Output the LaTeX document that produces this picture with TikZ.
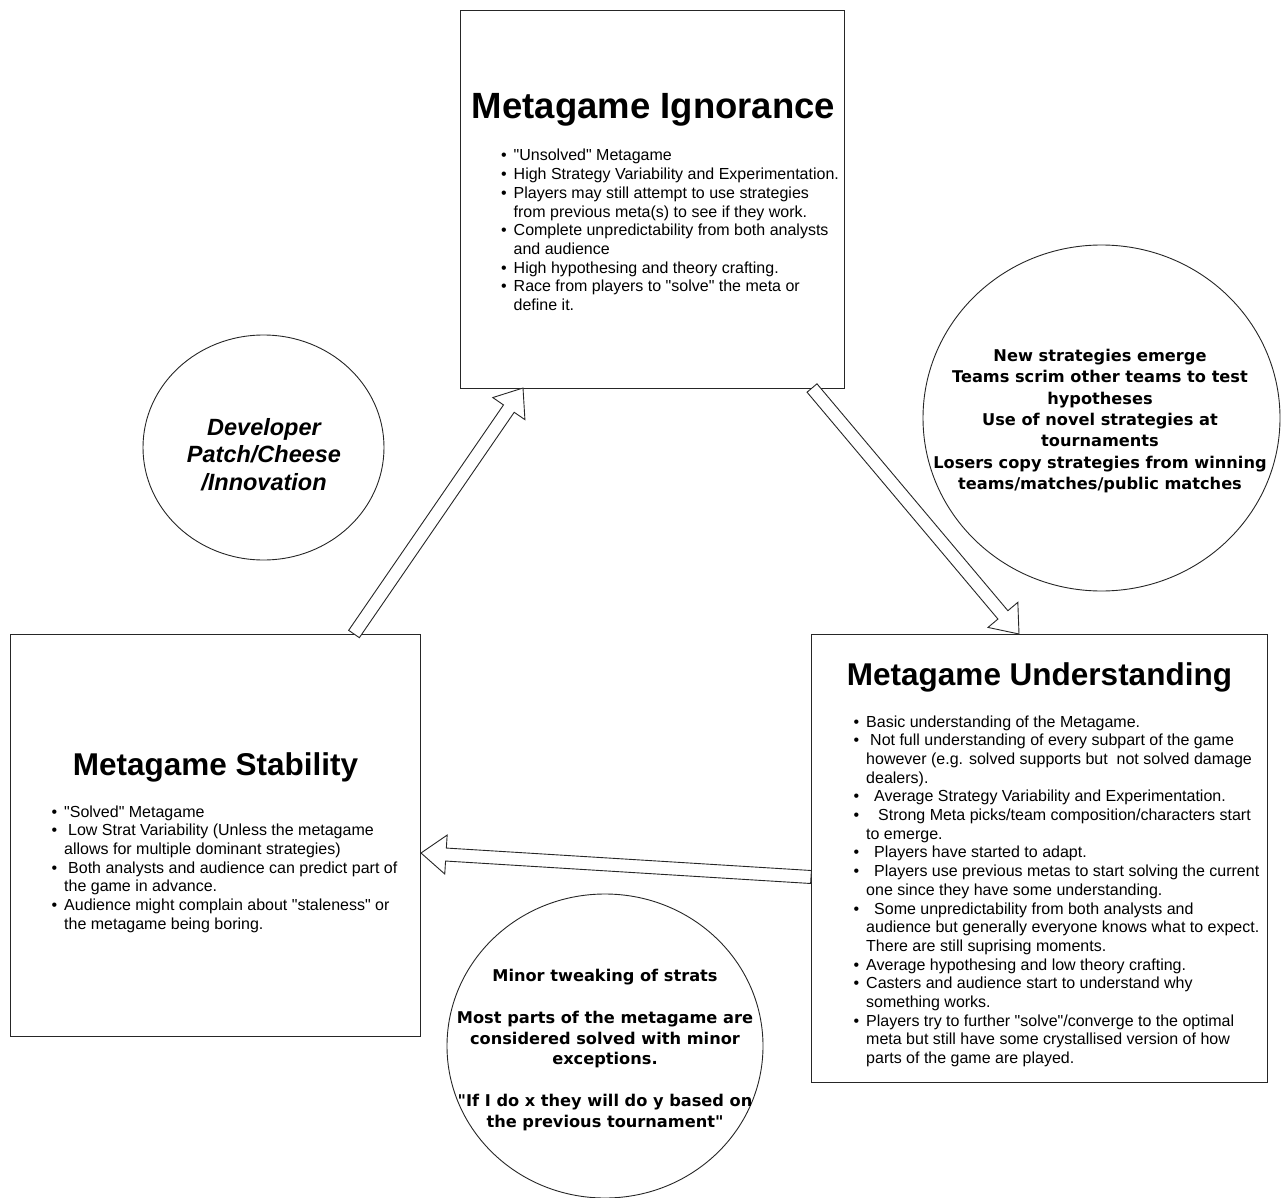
\documentclass[tikz,border=0pt]{standalone}
\usepackage{fontspec}
\setmainfont{Liberation Sans}
\newfontfamily\dvfont{DejaVu Sans}
\usetikzlibrary{calc,shapes.geometric}
\newcommand\bul{\makebox[12.5pt][l]{\textbullet}}
\newcommand\qq{\textquotedbl}
\newcommand\blockarrow[2]{%
  \coordinate (h) at ($(#2)!25pt!(#1)$);
  \draw[blockarr] ($(#1)!6.5pt!90:(#2)$) -- ($(h)!6.5pt!-90:(#1)$) -- ($(h)!19.5pt!-90:(#1)$) -- (#2)
     -- ($(h)!19.5pt!90:(#1)$) -- ($(h)!6.5pt!90:(#1)$) -- ($(#1)!6.5pt!-90:(#2)$) -- cycle;}
\tikzset{
  statebox/.style={draw=black!85, line width=1pt, rectangle, inner sep=0pt},
  oval/.style={draw=black!85, line width=0.9pt, ellipse, inner sep=0pt},
  blockarr/.style={draw=black!85, line width=0.9pt, fill=white, line join=miter},
  listtxt/.style={anchor=base west, inner sep=0pt, font=\fontsize{16}{18.7}\selectfont},
  bigtitle/.style={anchor=base, inner sep=0pt, font=\bfseries\fontsize{31.5}{36}\selectfont},
  circtxt/.style={inner sep=0pt, align=center, font=\dvfont\bfseries\fontsize{16.2}{21.4}\selectfont}
}
\begin{document}
\begin{tikzpicture}[x=1pt,y=-1pt]
\useasboundingbox (0,0) rectangle (1282,1198);

% boxes
\node[statebox, minimum width=384pt, minimum height=377pt] (ign) at (652,199.5) {};
\node[statebox, minimum width=410pt, minimum height=402pt] (stab) at (215,835) {};
\node[statebox, minimum width=456pt, minimum height=448pt] (und) at (1039,858) {};

% circles
\node[oval, minimum width=241pt, minimum height=225pt] (dev) at (263.5,447.5) {};
\node[oval, minimum width=357pt, minimum height=346pt] (emerge) at (1101.5,418) {};
\node[oval, minimum width=316pt, minimum height=304pt] (tweak) at (605,1046) {};

% titles
\node[bigtitle, font=\bfseries\fontsize{36.5}{40}\selectfont] (ignt) at (653.5,119) {Metagame Ignorance};
\node[bigtitle] (undt) at (1039.5,685) {Metagame Understanding};
\node[bigtitle] (stabt) at (215.5,775) {Metagame Stability};

% lists
\node[listtxt] (ignl) at (501,161) {\begin{tabular}[t]{@{}l@{}l@{}}
\bul & \qq Unsolved\qq{} Metagame\\
\bul & High Strategy Variability and Experimentation.\\
\bul & Players may still attempt to use strategies\\
 & from previous meta(s) to see if they work.\\
\bul & Complete unpredictability from both analysts\\
 & and audience\\
\bul & High hypothesing and theory crafting.\\
\bul & Race from players to \qq solve\qq{} the meta or\\
 & define it.
\end{tabular}};

\node[listtxt] (undl) at (853.5,727) {\begin{tabular}[t]{@{}l@{}l@{}}
\bul & Basic understanding of the Metagame.\\
\bul & \hspace{4pt}Not full understanding of every subpart of the game\\
 & however (e.g. solved supports but\ \ not solved damage\\
 & dealers).\\
\bul & \hspace{8pt}Average Strategy Variability and Experimentation.\\
\bul & \hspace{12pt}Strong Meta picks/team composition/characters start\\
 & to emerge.\\
\bul & \hspace{8pt}Players have started to adapt.\\
\bul & \hspace{8pt}Players use previous metas to start solving the current\\
 & one since they have some understanding.\\
\bul & \hspace{8pt}Some unpredictability from both analysts and\\
 & audience but generally everyone knows what to expect.\\
 & There are still suprising moments.\\
\bul & Average hypothesing and low theory crafting.\\
\bul & Casters and audience start to understand why\\
 & something works.\\
\bul & Players try to further \qq solve\qq/converge to the optimal\\
 & meta but still have some crystallised version of how\\
 & parts of the game are played.
\end{tabular}};

\node[listtxt] (stabl) at (51.5,817) {\begin{tabular}[t]{@{}l@{}l@{}}
\bul & \qq Solved\qq{} Metagame\\
\bul & \hspace{4pt}Low Strat Variability (Unless the metagame\\
 & allows for multiple dominant strategies)\\
\bul & \hspace{4pt}Both analysts and audience can predict part of\\
 & the game in advance.\\
\bul & Audience might complain about \qq staleness\qq{} or\\
 & the metagame being boring.
\end{tabular}};

% circle texts
\node[inner sep=0pt, align=center, font=\bfseries\itshape\fontsize{23.5}{27.5}\selectfont] (devt) at (264,454.5) {Developer\\Patch/Cheese\\/Innovation};
\node[circtxt] (emt) at (1100,421) {New strategies emerge\\Teams scrim other teams to test\\hypotheses\\Use of novel strategies at\\tournaments\\Losers copy strategies from winning\\teams/matches/public matches};
\node[circtxt, font=\dvfont\bfseries\fontsize{16.2}{20.9}\selectfont] (twt) at (605,1050) {Minor tweaking of strats\\\mbox{}\\Most parts of the metagame are\\considered solved with minor\\exceptions.\\\mbox{}\\"If I do x they will do y based on\\the previous tournament"};

% arrow end points
\coordinate (a1s) at (354,634);
\coordinate (a1e) at (523,388);
\coordinate (a2s) at (812,388);
\coordinate (a2e) at (1019,634);
\coordinate (a3s) at (811,877);
\coordinate (a3e) at (421,853);

\blockarrow{a1s}{a1e}
\blockarrow{a2s}{a2e}
\blockarrow{a3s}{a3e}
\end{tikzpicture}
\end{document}
